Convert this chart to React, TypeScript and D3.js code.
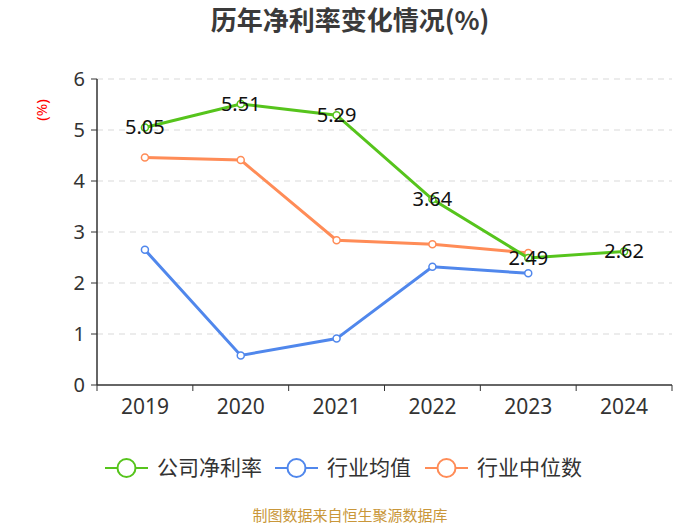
import * as d3 from 'd3';

const years = ['2019', '2020', '2021', '2022', '2023', '2024'];
const companyRate = [5.05, 5.51, 5.29, 3.64, 2.49, 2.62];
const industryAvg = [2.65, 0.58, 0.91, 2.32, 2.19, null];
const industryMedian = [4.46, 4.41, 2.84, 2.76, 2.59, null];
const yTicks = [0, 1, 2, 3, 4, 5, 6];

const seriesNames = ['公司净利率', '行业均值', '行业中位数'];
const seriesColors = ['#56c41c', '#5087ec', '#ff8c57'];

const width = 700;
const height = 525;
const margin = { top: 79, right: 28, bottom: 140, left: 97 };
const font = '"Noto Sans", "Noto Sans CJK SC", sans-serif';
const cjk = '"Noto Sans CJK SC", sans-serif';

export default function App() {
  const x = d3
    .scaleBand<string>()
    .domain(years)
    .range([margin.left, width - margin.right]);
  const y = d3
    .scaleLinear()
    .domain([0, 6])
    .range([height - margin.bottom, margin.top]);
  const cx = (i: number) => (x(years[i]) ?? 0) + x.bandwidth() / 2;

  const line = d3
    .line<number | null>()
    .defined((d) => d !== null)
    .x((d, i) => cx(i))
    .y((d) => y(d as number));

  // draw order: median, average, company on top
  const series = [industryMedian, industryAvg, companyRate];
  const colorsFor = [seriesColors[2], seriesColors[1], seriesColors[0]];

  const legendX = [105, 275, 425];

  return (
    <svg
      width={width}
      height={height}
      style={{ display: 'block', position: 'absolute', left: 0, top: 0 }}
      fontFamily={font}
    >
      <rect width={width} height={height} fill="#fff" />
      <text
        x={350}
        y={21}
        dy="0.35em"
        textAnchor="middle"
        fontSize={26}
        fontWeight="bold"
        fill="#3a3a3a"
        fontFamily={cjk}
      >
        历年净利率变化情况(%)
      </text>
      <text
        transform={`translate(47,${110}) rotate(-90)`}
        textAnchor="middle"
        fontSize={15}
        fill="#ff0000"
      >
        (%)
      </text>

      {yTicks.map((t) => (
        <g key={t}>
          {t > 0 && (
            <line
              x1={margin.left}
              x2={width - margin.right}
              y1={y(t)}
              y2={y(t)}
              stroke="#d9d9d9"
              strokeDasharray="6,5"
            />
          )}
          <line x1={margin.left - 6} x2={margin.left} y1={y(t)} y2={y(t)} stroke="#333" />
          <text x={margin.left - 12} y={y(t)} dy="0.35em" textAnchor="end" fontSize={20} fill="#333">
            {t}
          </text>
        </g>
      ))}
      <line x1={margin.left} x2={margin.left} y1={y(6)} y2={y(0)} stroke="#333" strokeWidth={1.5} />
      <line
        x1={margin.left}
        x2={width - margin.right}
        y1={y(0)}
        y2={y(0)}
        stroke="#333"
        strokeWidth={1.5}
      />
      {years.map((yr, i) => (
        <g key={yr}>
          <line x1={x(yr)} x2={x(yr)} y1={y(0)} y2={y(0) + 6} stroke="#333" />
          <text x={cx(i)} y={y(0) + 22} dy="0.35em" textAnchor="middle" fontSize={21} fill="#333">
            {yr}
          </text>
        </g>
      ))}
      <line
        x1={width - margin.right}
        x2={width - margin.right}
        y1={y(0)}
        y2={y(0) + 6}
        stroke="#333"
      />

      {series.map((s, k) => (
        <g key={k}>
          <path d={line(s) ?? ''} fill="none" stroke={colorsFor[k]} strokeWidth={3} />
          {s.map((v, i) =>
            v === null ? null : (
              <circle key={i} cx={cx(i)} cy={y(v)} r={3.5} fill="#fff" stroke={colorsFor[k]} strokeWidth={1.5} />
            )
          )}
        </g>
      ))}

      {companyRate.map((v, i) => (
        <text key={i} x={cx(i)} y={y(v)} dy="0.35em" textAnchor="middle" fontSize={20} fill="#111">
          {v.toFixed(2)}
        </text>
      ))}

      {seriesNames.map((name, k) => (
        <g key={name} transform={`translate(${legendX[k]},468)`}>
          <line x1={0} x2={43} y1={0} y2={0} stroke={seriesColors[k]} strokeWidth={2} />
          <circle cx={21.5} cy={0} r={9} fill="#fff" stroke={seriesColors[k]} strokeWidth={2} />
          <text x={52} y={0} dy="0.35em" fontSize={21} fill="#333" fontFamily={cjk}>
            {name}
          </text>
        </g>
      ))}

      <text
        x={350}
        y={516}
        dy="0.35em"
        textAnchor="middle"
        fontSize={15}
        fill="#c9973a"
        fontFamily={cjk}
      >
        制图数据来自恒生聚源数据库
      </text>
    </svg>
  );
}
